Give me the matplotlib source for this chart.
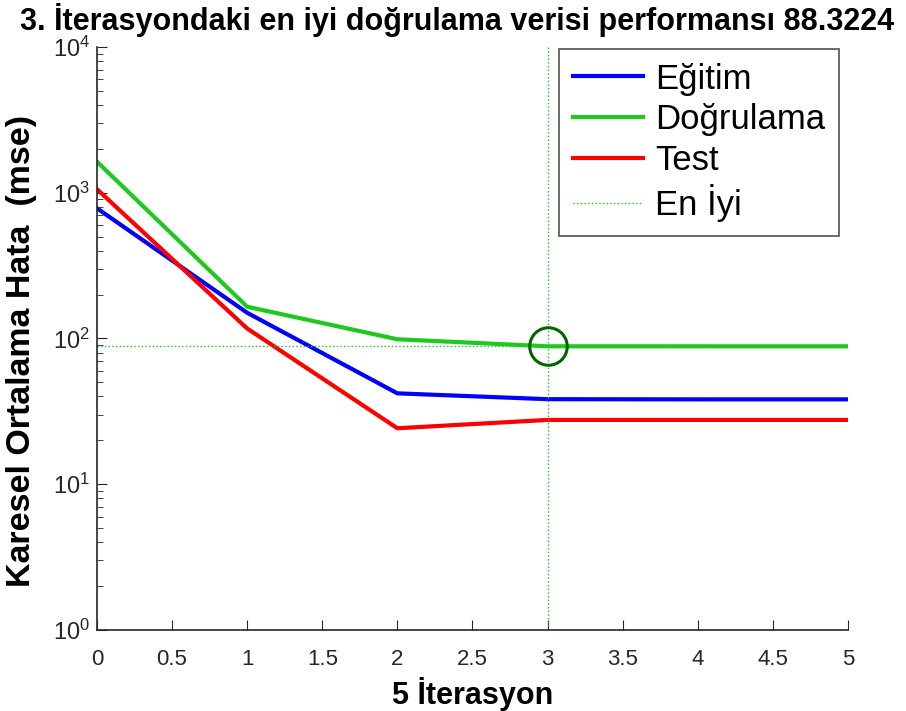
import matplotlib
matplotlib.use("Agg")
import matplotlib.pyplot as plt
from matplotlib.ticker import LogLocator, NullFormatter

plt.rcParams["font.family"] = ["Liberation Sans", "DejaVu Sans"]

epochs = [0, 1, 2, 3, 4, 5]
train_mse = [782, 150, 42, 38.3, 38.2, 38.2]
val_mse = [1633, 165, 98.7, 88.3224, 88.3, 88.3]
test_mse = [1057, 117, 24.2, 27.6, 27.6, 27.6]
best_epoch = 3
best_val = 88.3224

title = "3. İterasyondaki en iyi doğrulama verisi performansı 88.3224"
xlabel = "5 İterasyon"
ylabel = "Karesel Ortalama Hata  (mse)"
legend_labels = ["Eğitim", "Doğrulama", "Test", "En İyi"]

fig = plt.figure(figsize=(9.06, 7.11), dpi=100)
ax = fig.add_axes([0.107, 0.114, 0.829, 0.820])

ax.plot(epochs, train_mse, color="#0000ff", lw=3, label=legend_labels[0])
ax.plot(epochs, val_mse, color="#1ec81e", lw=3, label=legend_labels[1])
ax.plot(epochs, test_mse, color="#ff0000", lw=3, label=legend_labels[2])
ax.axvline(best_epoch, color="#1ec81e", lw=1, ls=":", label=legend_labels[3])
ax.axhline(best_val, color="#1ec81e", lw=1, ls=":")
ax.plot([best_epoch], [best_val], marker="o", ms=27, mfc="none",
        mec="#006400", mew=2.2, ls="none")

ax.set_yscale("log")
ax.set_ylim(1, 1e4)
ax.set_xlim(0, 5)
ax.set_xticks([0, 0.5, 1, 1.5, 2, 2.5, 3, 3.5, 4, 4.5, 5])
ax.set_xticklabels(["0", "0.5", "1", "1.5", "2", "2.5", "3", "3.5", "4", "4.5", "5"])
ax.yaxis.set_major_locator(LogLocator(base=10, numticks=10))
ax.yaxis.set_minor_locator(LogLocator(base=10, subs=range(2, 10), numticks=20))
ax.yaxis.set_minor_formatter(NullFormatter())

for side in ("top", "right"):
    ax.spines[side].set_visible(False)
for side in ("left", "bottom"):
    ax.spines[side].set_color("#262626")
    ax.spines[side].set_linewidth(1.2)

ax.tick_params(axis="both", which="major", direction="in", length=7,
               colors="#262626")
ax.tick_params(axis="y", which="major", labelsize=17, pad=5)
ax.tick_params(axis="y", which="minor", direction="in", length=4, color="#262626")
ax.tick_params(axis="x", which="major", labelsize=16, pad=14)

fig.text(0.505, 1 - 20 / 711, title, fontsize=22, fontweight="bold",
         ha="center", va="center")
ax.set_xlabel(xlabel, fontsize=22, fontweight="bold", labelpad=5)
ax.set_ylabel(ylabel, fontsize=24.5, fontweight="bold")
ax.yaxis.set_label_coords(-0.080, 0.479)

leg = ax.legend(loc="upper right", bbox_to_anchor=(0.990, 1.0), fontsize=25,
                frameon=True, fancybox=False, edgecolor="#262626",
                handlelength=2.0, handletextpad=0.35, borderpad=0.4,
                labelspacing=0.22, borderaxespad=0.05)
leg.get_frame().set_linewidth(1.2)

fig.savefig("out.png", dpi=100)
